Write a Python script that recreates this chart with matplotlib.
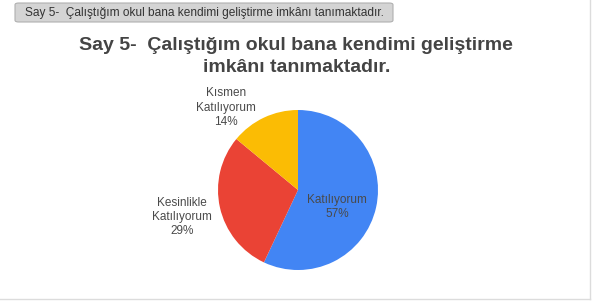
import matplotlib
matplotlib.use("Agg")
import matplotlib.pyplot as plt
from matplotlib.patches import FancyBboxPatch

categories = ["Katılıyorum", "Kesinlikle\nKatılıyorum", "Kısmen\nKatılıyorum"]
values = [57, 29, 14]
colors = ["#4285F4", "#EA4335", "#FBBC04"]
title = "Say 5-  Çalıştığım okul bana kendimi geliştirme\nimkânı tanımaktadır."
header = "Say 5-  Çalıştığım okul bana kendimi geliştirme imkânı tanımaktadır."

plt.rcParams['font.family'] = ['Liberation Sans', 'DejaVu Sans']

W, H = 605, 304
fig = plt.figure(figsize=(W / 100, H / 100), dpi=100)
fig.patch.set_facecolor("white")

def px(x, y):
    return x / W, 1 - y / H

# frame lines
fig.add_artist(plt.Line2D([590 / W, 590 / W], [1.0, 1 - 299 / H], color="#dcdcdc", lw=1))
fig.add_artist(plt.Line2D([0, 590 / W], [1 - 299 / H, 1 - 299 / H], color="#dcdcdc", lw=1))

# header tag
bx0, by0 = px(15, 22)
box = FancyBboxPatch((bx0, by0), 378 / W, 19 / H, boxstyle="round,pad=0,rounding_size=0.006",
                     transform=fig.transFigure, facecolor="#d4d4d4", edgecolor="#b0b0b0", lw=0.8)
fig.add_artist(box)
fig.text(*px(204, 13), header, ha="center", va="center", fontsize=8.6, color="#333333")

# title
lines = title.split("\n")
fig.text(*px(296, 45), lines[0], ha="center", va="center", fontsize=14,
         fontweight="bold", color="#444444")
fig.text(*px(297, 68), lines[1], ha="center", va="center", fontsize=14,
         fontweight="bold", color="#444444")

# pie
cx, cy, r = 298, 190, 80
ax = fig.add_axes([(cx - r) / W, (H - cy - r) / H, 2 * r / W, 2 * r / H])
ax.pie(values, colors=colors, startangle=90, counterclock=False, radius=1,
       wedgeprops=dict(linewidth=0))
ax.set_xlim(-1, 1)
ax.set_ylim(-1, 1)
ax.set_aspect("equal")
ax.axis("off")

label_pos = [(0.49, -0.21), (-1.45, -0.34), (-0.9, 1.03)]
for cat, v, (lx, ly) in zip(categories, values, label_pos):
    ax.text(lx, ly, f"{cat}\n{v}%", ha="center", va="center", fontsize=8.5,
            color="#4a4a4a", linespacing=1.25, clip_on=False)

fig.savefig("out.png", dpi=100, facecolor="white")
